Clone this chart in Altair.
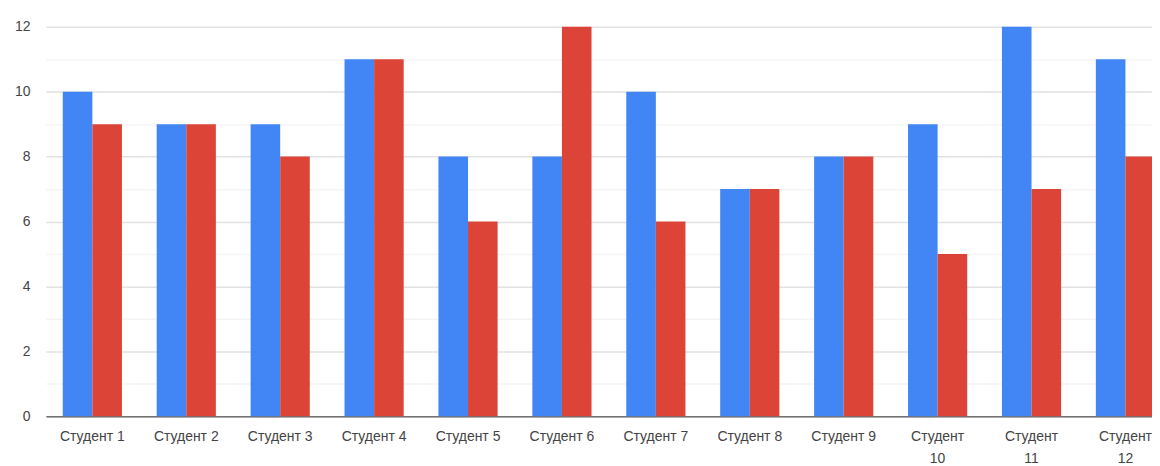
import altair as alt
import pandas as pd

students = ["Студент 1", "Студент 2", "Студент 3", "Студент 4", "Студент 5", "Студент 6",
            "Студент 7", "Студент 8", "Студент 9", "Студент 10", "Студент 11", "Студент 12"]
series_a = [10, 9, 9, 11, 8, 8, 10, 7, 8, 9, 12, 11]
series_b = [9, 9, 8, 11, 6, 12, 6, 7, 8, 5, 7, 8]
series_names = ["Ряд 1", "Ряд 2"]

rows = []
for s, a, b in zip(students, series_a, series_b):
    rows.append({"student": s, "series": series_names[0], "value": a})
    rows.append({"student": s, "series": series_names[1], "value": b})
df = pd.DataFrame(rows)

FONT = "Liberation Sans"

chart = alt.Chart(df).mark_bar().encode(
    x=alt.X("student:N", sort=students, title=None,
            scale=alt.Scale(paddingInner=0.37, paddingOuter=0.18, range=[0, 1130]),
            axis=alt.Axis(labelAngle=0, ticks=False, domainColor="#333333", domainWidth=1,
                          labelColor="#444444", labelFontSize=14, labelFont=FONT,
                          labelPadding=13, labelLineHeight=22,
                          labelExpr="length(datum.label) > 9 ? split(datum.label, ' ') : datum.label")),
    xOffset=alt.XOffset("series:N", sort=series_names),
    y=alt.Y("value:Q", title=None,
            scale=alt.Scale(domain=[0, 12], nice=False),
            axis=alt.Axis(values=list(range(0, 13)), ticks=False, domain=False,
                          labelExpr="datum.value % 2 ? '' : datum.label",
                          labelColor="#444444", labelFontSize=14, labelFont=FONT, labelPadding=16,
                          gridColor={"condition": {"test": "datum.value % 2 == 1", "value": "#f4f4f4"},
                                     "value": "#e2e2e2"},
                          gridWidth=1.5)),
    color=alt.Color("series:N", sort=series_names,
                    scale=alt.Scale(domain=series_names, range=["#4285F4", "#DB4437"]),
                    legend=None),
).properties(
    width=1110, height=391,
    padding={"left": 38, "top": 18, "right": 0, "bottom": 48},
    autosize=alt.AutoSizeParams(type="none"),
).configure_view(stroke=None)

chart.save("out.html", embed_options={"renderer": "svg", "actions": False})
